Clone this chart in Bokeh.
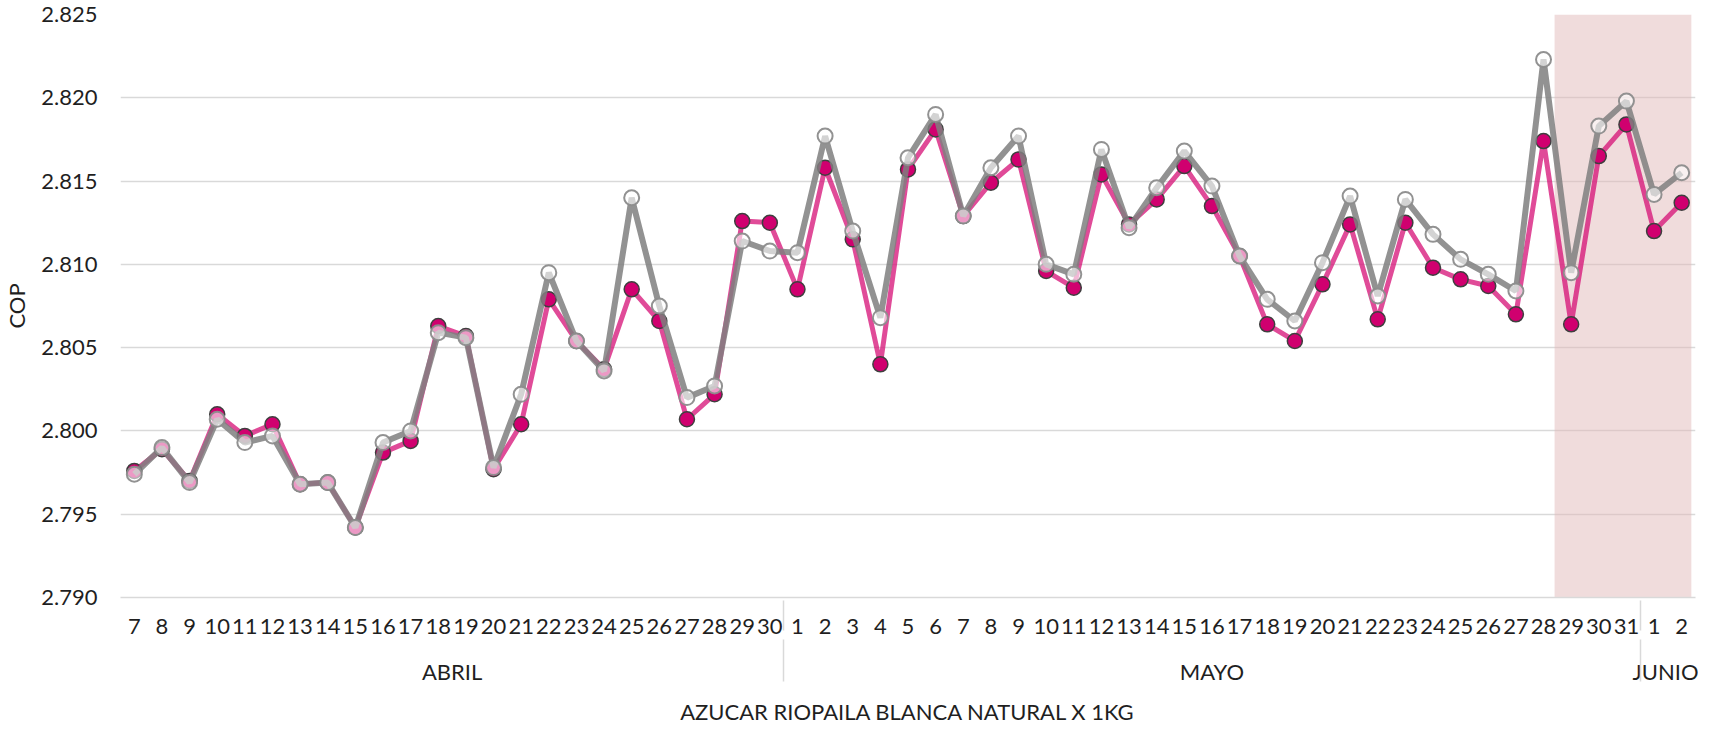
from bokeh.plotting import figure
from bokeh.models import (FactorRange, CategoricalAxis, FixedTicker,
                          CustomJSTickFormatter, ColumnDataSource)
from bokeh.embed import file_html
from bokeh.resources import INLINE

# ---------------- data ----------------
PRODUCT = "AZUCAR RIOPAILA BLANCA NATURAL X 1KG"
MONTHS = ["ABRIL", "MAYO", "JUNIO"]
DAYS_ABRIL = [str(d) for d in range(7, 31)]
DAYS_MAYO = [str(d) for d in range(1, 32)]
DAYS_JUNIO = ["1", "2"]

SERIES_PINK = [
    # ABRIL 7..30
    2797.6, 2798.9, 2797.0, 2801.0, 2799.7, 2800.4, 2796.8, 2796.9, 2794.2, 2798.7,
    2799.4, 2806.3, 2805.7, 2797.7, 2800.4, 2807.9, 2805.4, 2803.7, 2808.5, 2806.6,
    2800.7, 2802.2, 2812.6, 2812.5,
    # MAYO 1..31
    2808.5, 2815.8, 2811.5, 2804.0, 2815.7, 2818.1, 2812.9, 2814.9, 2816.3, 2809.6,
    2808.6, 2815.4, 2812.4, 2813.9, 2815.9, 2813.5, 2810.5, 2806.4, 2805.4, 2808.8,
    2812.4, 2806.7, 2812.5, 2809.8, 2809.1, 2808.7, 2807.0, 2817.4, 2806.4, 2816.5,
    2818.4,
    # JUNIO 1..2
    2812.0, 2813.7,
]
SERIES_GREY = [
    # ABRIL 7..30
    2797.4, 2799.0, 2796.9, 2800.7, 2799.3, 2799.7, 2796.8, 2796.9, 2794.2, 2799.3,
    2800.0, 2805.9, 2805.6, 2797.8, 2802.2, 2809.5, 2805.4, 2803.6, 2814.0, 2807.5,
    2802.0, 2802.7, 2811.4, 2810.8,
    # MAYO 1..31
    2810.7, 2817.7, 2812.0, 2806.8, 2816.4, 2819.0, 2812.9, 2815.8, 2817.7, 2810.0,
    2809.4, 2816.9, 2812.2, 2814.6, 2816.8, 2814.7, 2810.5, 2807.9, 2806.6, 2810.1,
    2814.1, 2808.1, 2813.9, 2811.8, 2810.3, 2809.4, 2808.4, 2822.3, 2809.5, 2818.3,
    2819.8,
    # JUNIO 1..2
    2814.2, 2815.5,
]
Y_TICKS = [2790, 2795, 2800, 2805, 2810, 2815, 2820, 2825]
Y_LABEL = "COP"
HIGHLIGHT_START = ("MAYO", "29")
HIGHLIGHT_END = ("JUNIO", "2")

# ---------------- styles ----------------
FONT = "Lato"
FS = "22px"
TXT = "#1f1f1f"
GRID = "#D9D9D9"

factors = ([("ABRIL", d) for d in DAYS_ABRIL] + [("MAYO", d) for d in DAYS_MAYO]
           + [("JUNIO", d) for d in DAYS_JUNIO])

x_range = FactorRange(*factors, factor_padding=0, group_padding=0,
                      subgroup_padding=0, range_padding=0)

p = figure(x_range=x_range, y_range=(Y_TICKS[0], Y_TICKS[-1]),
           width=1698, height=727, output_backend="svg", toolbar_location=None,
           x_axis_location=None)
p.min_border_top = 14
p.min_border_left = 117
p.min_border_right = 3
p.outline_line_color = None
p.background_fill_color = "white"
p.border_fill_color = "white"

# y axis
p.yaxis.ticker = FixedTicker(ticks=Y_TICKS)
p.yaxis.formatter = CustomJSTickFormatter(code="""
    const s = Math.round(tick).toString();
    return s.length > 3 ? s.slice(0, -3) + "." + s.slice(-3) : s;
""")
p.yaxis.axis_line_color = None
p.yaxis.major_tick_line_color = None
p.yaxis.minor_tick_line_color = None
p.yaxis.major_tick_out = 0
p.yaxis.major_tick_in = 0
p.yaxis.major_label_standoff = 23
p.yaxis.major_label_text_font = FONT
p.yaxis.major_label_text_font_size = FS
p.yaxis.major_label_text_color = TXT
p.yaxis.axis_label = Y_LABEL
p.yaxis.axis_label_text_font = FONT
p.yaxis.axis_label_text_font_size = FS
p.yaxis.axis_label_text_font_style = "normal"
p.yaxis.axis_label_text_color = TXT
p.yaxis.axis_label_standoff = 8

p.ygrid.grid_line_color = GRID
p.ygrid.grid_line_width = 1.5
p.xgrid.grid_line_color = None

# x axis 1 : days
ax1 = CategoricalAxis(
    axis_line_color=GRID, axis_line_width=1.5,
    major_tick_line_color=None, minor_tick_line_color=None,
    major_tick_out=0, major_tick_in=0,
    major_label_standoff=21,
    major_label_text_font=FONT, major_label_text_font_size=FS,
    major_label_text_color=TXT,
    group_text_font_size="1px", group_text_alpha=0,
    separator_line_color=GRID, separator_line_width=1.5,
)
p.add_layout(ax1, "below")

# x axis 2 : months + product
ax2 = CategoricalAxis(
    axis_line_color=None,
    major_tick_line_color=None, minor_tick_line_color=None,
    major_tick_out=0, major_tick_in=0,
    major_label_standoff=21,
    major_label_text_font_size="1px", major_label_text_alpha=0,
    group_text_font=FONT, group_text_font_size=FS, group_text_color=TXT,
    group_text_font_style="normal",
    separator_line_color=GRID, separator_line_width=1.5,
    axis_label=PRODUCT, axis_label_standoff=10,
    axis_label_text_font=FONT, axis_label_text_font_size=FS,
    axis_label_text_font_style="normal", axis_label_text_color=TXT,
)
p.add_layout(ax2, "below")

# highlight box
hl = ColumnDataSource(dict(
    left=[(*HIGHLIGHT_START, -0.6)], right=[(*HIGHLIGHT_END, 0.35)],
    bottom=[Y_TICKS[0]], top=[Y_TICKS[-1]],
))
p.quad(left="left", right="right", bottom="bottom", top="top", source=hl,
       fill_color="#E1B9B9", fill_alpha=0.5, line_color=None)

src = ColumnDataSource(dict(x=factors, pink=SERIES_PINK, grey=SERIES_GREY))

p.line("x", "pink", source=src, line_color="#D60F76", line_alpha=0.75, line_width=5)
p.scatter("x", "pink", source=src, size=15, fill_color="#D0006F",
          line_color="#3F3F3F", line_width=1.5)
p.line("x", "grey", source=src, line_color="#7F7F7F", line_alpha=0.85, line_width=6)
p.scatter("x", "grey", source=src, size=15, fill_color="white", fill_alpha=0.6,
          line_color="#8C8C8C", line_width=2, line_alpha=0.95)

open("out.html", "w").write(file_html(p, INLINE))
